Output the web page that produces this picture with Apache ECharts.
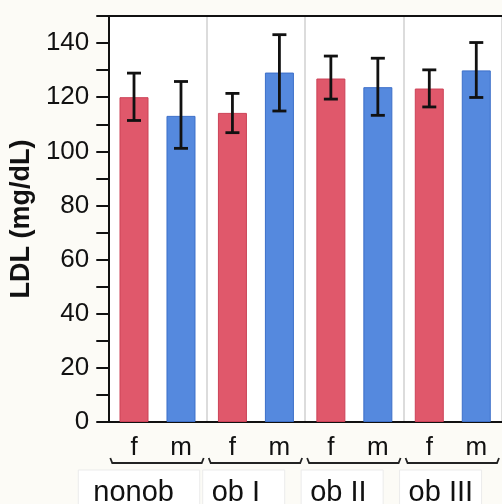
<!DOCTYPE html>
<html>
<head>
<meta charset="utf-8">
<script src="https://cdn.jsdelivr.net/npm/echarts@6/dist/echarts.min.js"></script>
<style>
  html, body { margin: 0; padding: 0; background: #fcfbf6; }
  #chart { width: 502px; height: 504px; }
</style>
</head>
<body>
<div id="chart"></div>
<script>
// group and sex labels
var groups = ['nonob', 'ob I', 'ob II', 'ob III']
var sexes = ['f', 'm']

// LDL mean per group (mg/dL)
var fMean = [120, 114.2, 126.9, 123.2]
var mMean = [113.1, 129.1, 123.7, 129.9]
// error bar ends
var fLow = [111.4, 106.9, 119.3, 116.4]
var fHigh = [128.9, 121.4, 135.2, 130.1]
var mLow = [101.1, 114.9, 113.3, 119.9]
var mHigh = [125.8, 143.1, 134.4, 140.2]

var yTicks = [0, 20, 40, 60, 80, 100, 120, 140]

var font = 'Liberation Sans'
var barW = 29
var gapRatio = 0.62

var myChart = echarts.init(document.getElementById('chart'))

function errData(low, high) {
  return low.map(function (v, i) { return [i, v, high[i]] })
}

function errRender(sign) {
  return function (params, api) {
    var i = api.value(0)
    var lo = api.coord([i, api.value(1)])
    var hi = api.coord([i, api.value(2)])
    var x = lo[0] + sign * barW * (1 + gapRatio) / 2
    var st = { stroke: '#111', lineWidth: 2.8 }
    return {
      type: 'group',
      children: [
        { type: 'line', shape: { x1: x, y1: lo[1], x2: x, y2: hi[1] }, style: st },
        { type: 'line', shape: { x1: x - 7, y1: lo[1], x2: x + 7, y2: lo[1] }, style: st },
        { type: 'line', shape: { x1: x - 7, y1: hi[1], x2: x + 7, y2: hi[1] }, style: st }
      ]
    }
  }
}

function groupRender(params, api) {
  var i = api.value(0)
  var c = api.coord([i, 0])
  var w = api.size([1, 0])[0]
  var x0 = c[0] - w / 2 + 2
  var x1 = c[0] + w / 2 - 3
  var y = c[1] + 41
  var tx = i === 0 ? x0 - 17 : x0 + 3
  var cellL = i === 0 ? x0 - 32 : x0 - 6
  var cellR = i === 0 ? x1 - 4 : x0 + 76
  return {
    type: 'group',
    children: [
      { type: 'rect', shape: { x: cellL, y: c[1] + 48, width: cellR - cellL, height: 40 },
        style: { fill: '#fff', stroke: '#ebebeb', lineWidth: 1 } },
      { type: 'polyline', shape: { points: [[x0, y - 5], [x0 + 2, y], [x1 - 2, y], [x1, y - 5]] },
        style: { stroke: '#222', lineWidth: 1.8, fill: null } },
      { type: 'text', x: tx, y: c[1] + 71,
        style: { text: groups[i], fontSize: 29, fontFamily: font, fill: '#111', verticalAlign: 'middle' } }
    ]
  }
}

var barBase = {
  type: 'bar',
  barWidth: barW,
  barGap: (gapRatio * 100) + '%',
  label: {
    show: true,
    position: 'bottom',
    distance: 13,
    fontSize: 26,
    fontFamily: font,
    color: '#111'
  }
}

var option = {
  backgroundColor: '#fcfbf6',
  animation: false,
  grid: {
    left: 107,
    top: 16,
    right: -9,
    bottom: 82,
    show: true,
    backgroundColor: '#fff',
    borderWidth: 0
  },
  xAxis: [
    {
      type: 'category',
      data: groups,
      boundaryGap: true,
      axisLine: { lineStyle: { color: '#111', width: 2 } },
      axisTick: { show: false },
      axisLabel: { show: false },
      splitLine: { show: true, interval: 0, lineStyle: { color: '#dcdcdc', width: 2 } }
    },
    {
      type: 'category',
      position: 'top',
      data: groups,
      axisLine: { lineStyle: { color: '#111', width: 2 } },
      axisTick: { show: false },
      axisLabel: { show: false }
    }
  ],
  yAxis: {
    type: 'value',
    min: 0,
    max: 150,
    interval: 10,
    name: 'LDL (mg/dL)',
    nameLocation: 'middle',
    nameGap: 64,
    nameTextStyle: { fontSize: 27, fontWeight: 'bold', fontFamily: font, color: '#111' },
    axisLine: { show: true, lineStyle: { color: '#111', width: 2 } },
    axisTick: { show: true, length: 12, lineStyle: { color: '#111', width: 2 } },
    axisLabel: {
      margin: 19,
      fontSize: 26,
      fontFamily: font,
      color: '#111',
      formatter: function (v) { return yTicks.indexOf(v) > -1 ? String(v) : '' }
    },
    splitLine: { show: false }
  },
  series: [
    Object.assign({}, barBase, {
      name: sexes[0],
      data: fMean,
      itemStyle: { color: '#e0586b', borderColor: '#cc4257', borderWidth: 1 },
      label: Object.assign({}, barBase.label, { formatter: sexes[0] })
    }),
    Object.assign({}, barBase, {
      name: sexes[1],
      data: mMean,
      itemStyle: { color: '#5589de', borderColor: '#3c6fc9', borderWidth: 1 },
      label: Object.assign({}, barBase.label, { formatter: sexes[1] })
    }),
    {
      type: 'custom',
      data: errData(fLow, fHigh),
      encode: { x: 0, y: [1, 2] },
      renderItem: errRender(-1),
      z: 5
    },
    {
      type: 'custom',
      data: errData(mLow, mHigh),
      encode: { x: 0, y: [1, 2] },
      renderItem: errRender(1),
      z: 5
    },
    {
      type: 'custom',
      data: groups.map(function (g, i) { return [i, 0] }),
      encode: { x: 0, y: 1 },
      renderItem: groupRender,
      clip: false,
      silent: true
    }
  ]
}

myChart.setOption(option)
</script>
</body>
</html>
